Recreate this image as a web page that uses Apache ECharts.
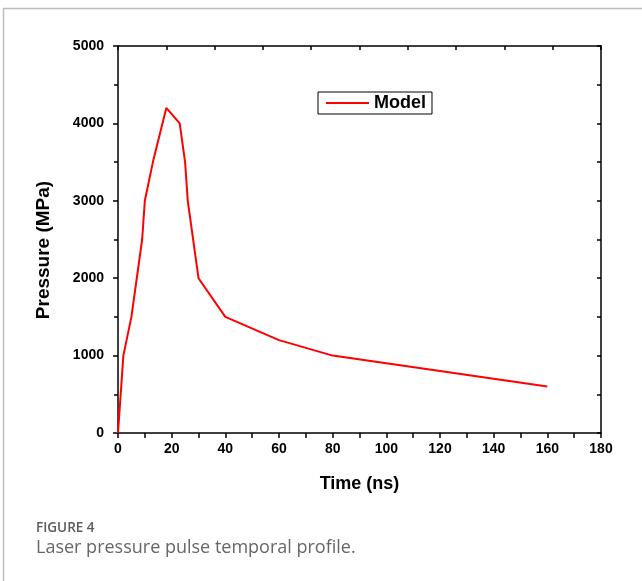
<!DOCTYPE html>
<html>
<head>
<meta charset="utf-8">
<script src="https://cdn.jsdelivr.net/npm/echarts@6/dist/echarts.min.js"></script>
<style>
html,body{margin:0;padding:0;background:#fff;}
#chart{width:642px;height:581px;}
</style>
</head>
<body>
<div id="chart"></div>
<script>
const timeNs = [0, 2, 5, 9, 10, 13, 18, 23, 25, 26, 30, 40, 60, 80, 160];
const pressureMPa = [0, 1000, 1500, 2500, 3000, 3500, 4200, 4000, 3500, 3000, 2000, 1500, 1200, 1000, 600];
const seriesName = 'Model';
const xTitle = 'Time (ns)';
const yTitle = 'Pressure (MPa)';
const captionLabel = 'FIGURE 4';
const captionText = 'Laser pressure pulse temporal profile.';

const chart = echarts.init(document.getElementById('chart'), null, {renderer: 'canvas'});
const labelFont = {color: '#000', fontFamily: 'Liberation Sans, Arial, sans-serif', fontWeight: 'bold', fontSize: 14};
const axisLine = {show: true, onZero: false, lineStyle: {color: '#000', width: 1.5}};
const plain = v => String(v);

chart.setOption({
  animation: false,
  backgroundColor: '#fff',
  grid: {left: 118, right: 41, top: 46, bottom: 148, containLabel: false},
  legend: {
    data: [seriesName],
    left: 318, top: 92,
    orient: 'horizontal',
    borderColor: '#000', borderWidth: 1,
    padding: [2, 6, 2, 8],
    itemWidth: 43, itemHeight: 2,
    icon: 'rect',
    textStyle: {color: '#000', fontFamily: 'Liberation Sans, Arial, sans-serif', fontWeight: 'bold', fontSize: 18}
  },
  xAxis: [
    {
      type: 'value', position: 'bottom', min: 0, max: 180, interval: 20,
      axisLine: axisLine,
      axisTick: {show: true, inside: false, length: 5, lineStyle: {color: '#000', width: 1.5}},
      minorTick: {show: true, splitNumber: 2, length: 5, lineStyle: {color: '#000', width: 1.5}},
      splitLine: {show: false},
      axisLabel: Object.assign({margin: 9, formatter: plain}, labelFont)
    },
    {
      type: 'value', position: 'top', min: 0, max: 180, interval: 18,
      axisLine: axisLine,
      axisTick: {show: true, inside: true, length: 4, lineStyle: {color: '#000', width: 1.5}},
      splitLine: {show: false},
      axisLabel: {show: false}
    }
  ],
  yAxis: [
    {
      type: 'value', position: 'left', min: 0, max: 5000, interval: 1000,
      axisLine: axisLine,
      axisTick: {show: true, inside: false, length: 5, lineStyle: {color: '#000', width: 1.5}},
      minorTick: {show: true, splitNumber: 2, length: 4, lineStyle: {color: '#000', width: 1.5}},
      splitLine: {show: false},
      axisLabel: Object.assign({margin: 14, formatter: plain}, labelFont)
    },
    {
      type: 'value', position: 'right', min: 0, max: 5000, interval: 500,
      axisLine: axisLine,
      axisTick: {show: true, inside: true, length: 4, lineStyle: {color: '#000', width: 1.5}},
      splitLine: {show: false},
      axisLabel: {show: false}
    }
  ],
  series: [{
    name: seriesName,
    type: 'line',
    xAxisIndex: 0, yAxisIndex: 0,
    data: timeNs.map((t, i) => [t, pressureMPa[i]]),
    showSymbol: false,
    symbol: 'none',
    lineStyle: {color: '#ff0000', width: 2},
    itemStyle: {color: '#ff0000'}
  }],
  graphic: [
    {type: 'line', shape: {x1: 3, y1: 8.5, x2: 642, y2: 8.5}, style: {stroke: '#bdbdbd', lineWidth: 1.5}, silent: true},
    {type: 'line', shape: {x1: 3.5, y1: 8, x2: 3.5, y2: 581}, style: {stroke: '#bdbdbd', lineWidth: 1.5}, silent: true},
    {type: 'text', x: 359.5, y: 484, style: {text: xTitle, fill: '#000', font: 'bold 18px "Liberation Sans", Arial, sans-serif', textAlign: 'center', textVerticalAlign: 'middle'}},
    {type: 'text', x: 44, y: 250, rotation: Math.PI / 2, style: {text: yTitle, fill: '#000', font: 'bold 19px "Liberation Sans", Arial, sans-serif', textAlign: 'center', textVerticalAlign: 'middle'}},
    {type: 'text', x: 36, y: 528, style: {text: captionLabel, fill: '#5a5a5a', font: '600 13.5px "Open Sans", sans-serif', textVerticalAlign: 'middle'}},
    {type: 'text', x: 36, y: 548, style: {text: captionText, fill: '#666', font: '18px "Open Sans", sans-serif', textVerticalAlign: 'middle'}}
  ]
});
</script>
</body>
</html>
